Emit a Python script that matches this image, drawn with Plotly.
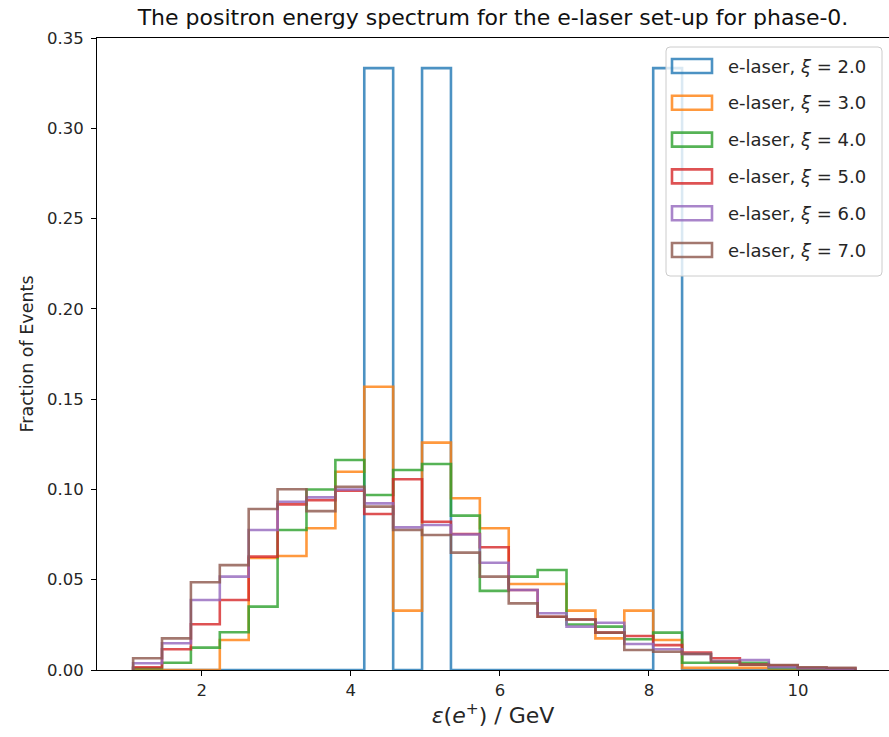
import numpy as np
import plotly.graph_objects as go

# Histogram binning (25 bins)
BIN_LO = 1.08
BIN_HI = 10.77
N_BINS = 25

labels = ["e-laser, <i>ξ</i> = 2.0", "e-laser, <i>ξ</i> = 3.0", "e-laser, <i>ξ</i> = 4.0",
          "e-laser, <i>ξ</i> = 5.0", "e-laser, <i>ξ</i> = 6.0", "e-laser, <i>ξ</i> = 7.0"]
colors = ["#1f77b4", "#ff7f0e", "#2ca02c", "#d62728", "#9467bd", "#8c564b"]

xi2 = [0, 0, 0, 0, 0, 0, 0, 0, 0.3333, 0, 0.3333, 0, 0, 0, 0, 0, 0, 0, 0.3333, 0, 0, 0, 0, 0, 0]
xi3 = [0, 0, 0, 0.0166, 0.062, 0.0631, 0.0785, 0.1098, 0.1569, 0.0329, 0.1259, 0.0951, 0.0785,
       0.0476, 0.0476, 0.0329, 0.0175, 0.0329, 0.0166, 0.0012, 0.0012, 0.0012, 0, 0, 0]
xi4 = [0.001, 0.004, 0.0124, 0.0209, 0.0351, 0.0775, 0.100, 0.1163, 0.0969, 0.1108, 0.1141, 0.0855,
       0.0438, 0.0517, 0.0554, 0.0252, 0.024, 0.017, 0.0207, 0.004, 0.004, 0.004, 0.001, 0, 0]
xi5 = [0.0015, 0.0115, 0.0253, 0.0388, 0.0628, 0.0917, 0.094, 0.0993, 0.0864, 0.1056, 0.0821, 0.0753,
       0.068, 0.0443, 0.0295, 0.028, 0.0207, 0.0188, 0.0138, 0.0096, 0.0065, 0.003, 0.0025, 0.0012, 0.0008]
xi6 = [0.0037, 0.0148, 0.0388, 0.0517, 0.0775, 0.0932, 0.0956, 0.100, 0.0923, 0.079, 0.0803, 0.075,
       0.0594, 0.0443, 0.0314, 0.024, 0.0262, 0.0144, 0.0115, 0.0089, 0.005, 0.0055, 0.0015, 0.001, 0.0005]
xi7 = [0.0065, 0.0175, 0.0486, 0.0581, 0.0892, 0.1001, 0.088, 0.1015, 0.0905, 0.0775, 0.0748, 0.065,
       0.0517, 0.0369, 0.0295, 0.028, 0.0207, 0.0111, 0.0101, 0.0089, 0.0046, 0.003, 0.0028, 0.0015, 0.0012]

series = [xi2, xi3, xi4, xi5, xi6, xi7]

x_ticks = [2, 4, 6, 8, 10]
y_ticks = [0.00, 0.05, 0.10, 0.15, 0.20, 0.25, 0.30, 0.35]

edges = np.linspace(BIN_LO, BIN_HI, N_BINS + 1)

W, H = 889, 737
ML, MR, MT, MB = 97, 0, 38, 67
PW, PH = W - ML - MR, H - MT - MB


def step_path(vals):
    xs = [edges[0]]
    ys = [0.0]
    for i, v in enumerate(vals):
        xs += [edges[i], edges[i + 1]]
        ys += [v, v]
    xs.append(edges[-1])
    ys.append(0.0)
    return xs, ys


def hex_rgba(h, a):
    h = h.lstrip("#")
    r, g, b = int(h[0:2], 16), int(h[2:4], 16), int(h[4:6], 16)
    return f"rgba({r},{g},{b},{a})"


def px_x(px):
    return (px - ML) / PW


def px_y(py):
    return (H - MB - py) / PH


fig = go.Figure()
for i, (vals, lab, col) in enumerate(zip(series, labels, colors)):
    xs, ys = step_path(vals)
    fig.add_trace(go.Scatter(
        x=xs, y=ys, mode="lines", name=lab,
        line=dict(color=hex_rgba(col, 0.8), width=2.6),
        showlegend=False,
        hoverinfo="skip",
    ))

# Legend drawn as in matplotlib: outlined rectangle patches inside a framed box
shapes = []
annotations = []
box_l, box_r, box_t, box_b = 666, 882, 47, 276
rad = 4
path = (f"M {px_x(box_l + rad)},{px_y(box_t)} L {px_x(box_r - rad)},{px_y(box_t)} "
        f"Q {px_x(box_r)},{px_y(box_t)} {px_x(box_r)},{px_y(box_t + rad)} "
        f"L {px_x(box_r)},{px_y(box_b - rad)} "
        f"Q {px_x(box_r)},{px_y(box_b)} {px_x(box_r - rad)},{px_y(box_b)} "
        f"L {px_x(box_l + rad)},{px_y(box_b)} "
        f"Q {px_x(box_l)},{px_y(box_b)} {px_x(box_l)},{px_y(box_b - rad)} "
        f"L {px_x(box_l)},{px_y(box_t + rad)} "
        f"Q {px_x(box_l)},{px_y(box_t)} {px_x(box_l + rad)},{px_y(box_t)} Z")
shapes.append(dict(type="path", path=path, xref="paper", yref="paper", layer="above",
                   fillcolor="rgba(255,255,255,0.8)", line=dict(color="#cccccc", width=1)))
row0, row_step = 66, 36.8
for i, (lab, col) in enumerate(zip(labels, colors)):
    cy = row0 + i * row_step
    shapes.append(dict(type="rect", xref="paper", yref="paper", layer="above",
                       x0=px_x(672), x1=px_x(712), y0=px_y(cy + 7), y1=px_y(cy - 7),
                       line=dict(color=hex_rgba(col, 0.8), width=2.6),
                       fillcolor="rgba(0,0,0,0)"))
    annotations.append(dict(text=lab, xref="paper", yref="paper", x=px_x(726), y=px_y(cy),
                            xanchor="left", yanchor="middle", showarrow=False,
                            font=dict(size=18, color="#262626")))

fig.update_layout(
    width=W, height=H,
    margin=dict(l=ML, r=MR, t=MT, b=MB),
    paper_bgcolor="white", plot_bgcolor="white",
    font=dict(family="DejaVu Sans", color="#262626", size=16.5),
    title=dict(text="The positron energy spectrum for the e-laser set-up for phase-0.",
               x=0.5, xref="paper", xanchor="center", y=0.977, yanchor="middle",
               font=dict(size=22, color="#111111")),
    showlegend=False,
    shapes=shapes,
    annotations=annotations,
    xaxis=dict(range=[BIN_LO - 0.05 * (BIN_HI - BIN_LO), 11.22], tickvals=x_ticks,
               ticktext=[str(t) for t in x_ticks],
               showgrid=False, zeroline=False, showline=True, linecolor="black", linewidth=1,
               mirror=True, ticks="outside", ticklen=5, tickcolor="black",
               tickfont=dict(size=16.5),
               title=dict(text="<i>ε</i>(<i>e</i><sup>+</sup>) / GeV", font=dict(size=22),
                          standoff=6)),
    yaxis=dict(range=[0, 0.35], tickvals=y_ticks, ticktext=[f"{t:.2f}" for t in y_ticks],
               showgrid=False, zeroline=False, showline=True, linecolor="black", linewidth=1,
               mirror=True, ticks="outside", ticklen=5, tickcolor="black",
               tickfont=dict(size=16.5), ticklabelstandoff=4,
               title=dict(text="Fraction of Events", font=dict(size=17.5), standoff=8)),
)

fig.write_html("out.html")
